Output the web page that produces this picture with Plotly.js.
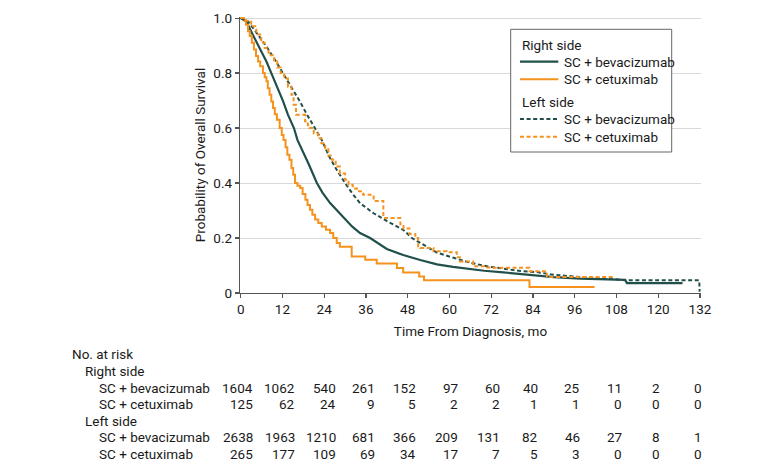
<!DOCTYPE html>
<html>
<head>
<meta charset="utf-8">
<script src="https://cdn.plot.ly/plotly-3.0.1.min.js"></script>
<style>
  html, body { margin: 0; padding: 0; background: #ffffff; }
  #chart { width: 780px; height: 472px; }
</style>
</head>
<body>
<div id="chart"></div>
<script>
// ---- Data ----
// Right side, SC + bevacizumab (smooth KM curve)
var rightBevT = [0, 1.6, 3.5, 5.5, 7.4, 8.8, 10.7, 12.2, 13.6, 15.3, 16.3, 18.3, 19.5, 21.9, 23.5, 25.7, 28, 30, 32, 34.3, 37.2, 42, 46.7, 51.6, 56.4, 61, 66, 70, 75.5, 80.4, 85.2, 90, 97.6, 104, 110.5, 111, 127];
var rightBevS = [1, 0.988, 0.939, 0.891, 0.842, 0.8, 0.745, 0.697, 0.648, 0.6, 0.557, 0.505, 0.47, 0.4, 0.365, 0.327, 0.295, 0.267, 0.242, 0.218, 0.2, 0.16, 0.138, 0.12, 0.104, 0.095, 0.087, 0.081, 0.075, 0.069, 0.064, 0.058, 0.052, 0.05, 0.048, 0.036, 0.036];

// Right side, SC + cetuximab (stepped KM curve)
var rightCetT = [0, 0.8, 1.5, 2.1, 2.6, 3.2, 3.8, 4.4, 5.0, 5.6, 6.4, 6.9, 7.4, 7.8, 8.3, 8.8, 9.3, 9.8, 10.4, 11.2, 11.8, 12.3, 12.9, 13.4, 14.0, 14.6, 15.1, 15.6, 16.3, 17.1, 17.8, 18.6, 19.2, 19.9, 20.6, 21.4, 22.3, 23.3, 24.5, 25.7, 26.6, 27.6, 28.5, 31.9, 35.8, 39.1, 44.9, 46.7, 51.3, 52.7, 83, 101.7];
var rightCetS = [1, 0.992, 0.976, 0.952, 0.935, 0.91, 0.886, 0.862, 0.842, 0.825, 0.8, 0.785, 0.77, 0.745, 0.721, 0.697, 0.673, 0.65, 0.63, 0.6, 0.575, 0.557, 0.53, 0.503, 0.485, 0.455, 0.43, 0.4, 0.39, 0.382, 0.36, 0.339, 0.32, 0.303, 0.285, 0.267, 0.255, 0.242, 0.23, 0.218, 0.2, 0.182, 0.168, 0.133, 0.121, 0.107, 0.091, 0.075, 0.06, 0.046, 0.022, 0.022];

// Left side, SC + bevacizumab (smooth KM curve)
var leftBevT = [0, 2.1, 5.0, 7.7, 10, 12.2, 14.6, 17, 19, 21.3, 23.3, 25.3, 27.5, 30, 32.2, 34.3, 36.2, 38.2, 42, 46.7, 49.2, 52, 56.4, 61.2, 66, 70.8, 75.5, 80.4, 85.2, 89, 95.7, 100, 107.7, 111, 131.8, 131.9];
var leftBevS = [1, 0.988, 0.939, 0.891, 0.845, 0.8, 0.75, 0.697, 0.65, 0.6, 0.557, 0.5, 0.45, 0.4, 0.36, 0.327, 0.31, 0.29, 0.262, 0.23, 0.2, 0.18, 0.147, 0.128, 0.11, 0.097, 0.09, 0.08, 0.076, 0.068, 0.06, 0.055, 0.05, 0.046, 0.046, 0.005];

// Left side, SC + cetuximab (stepped KM curve)
var leftCetT = [0, 1.5, 3, 4.5, 5.9, 6.9, 8, 9.6, 10.5, 11.5, 12.5, 13.6, 14.6, 15.2, 15.9, 18.5, 19.3, 19.8, 21, 22.2, 23.2, 24.3, 25.2, 26.2, 27.3, 28.5, 30, 31, 32.2, 33.4, 35.2, 38.2, 41, 45.9, 46.8, 48.5, 50.2, 51, 51.6, 55.4, 59.2, 62.1, 63, 66.8, 70.6, 72, 83, 88, 107.2];
var leftCetS = [1, 0.99, 0.97, 0.94, 0.91, 0.891, 0.865, 0.842, 0.82, 0.8, 0.78, 0.75, 0.721, 0.685, 0.648, 0.625, 0.61, 0.6, 0.58, 0.563, 0.545, 0.527, 0.5, 0.485, 0.46, 0.435, 0.412, 0.394, 0.38, 0.37, 0.357, 0.335, 0.273, 0.25, 0.235, 0.215, 0.2, 0.17, 0.164, 0.152, 0.148, 0.13, 0.115, 0.097, 0.093, 0.092, 0.079, 0.058, 0.058];

// Tick labels
var xTickVals = [0, 12, 24, 36, 48, 60, 72, 84, 96, 108, 120, 132];
var xTickText = ["0", "12", "24", "36", "48", "60", "72", "84", "96", "108", "120", "132"];
var yTickVals = [0, 0.2, 0.4, 0.6, 0.8, 1.0];
var yTickText = ["0", "0.2", "0.4", "0.6", "0.8", "1.0"];

// Legend labels
var groupTitles = ["Right side", "Left side"];
var seriesNames = ["SC + bevacizumab", "SC + cetuximab", "SC + bevacizumab", "SC + cetuximab"];

// Number at risk
var riskTimes = [0, 12, 24, 36, 48, 60, 72, 84, 96, 108, 120, 132];
var riskRightBev = [1604, 1062, 540, 261, 152, 97, 60, 40, 25, 11, 2, 0];
var riskRightCet = [125, 62, 24, 9, 5, 2, 2, 1, 1, 0, 0, 0];
var riskLeftBev = [2638, 1963, 1210, 681, 366, 209, 131, 82, 46, 27, 8, 1];
var riskLeftCet = [265, 177, 109, 69, 34, 17, 7, 5, 3, 0, 0, 0];

// ---- Styling ----
var DARK = '#21504b';
var ORANGE = '#f5921e';
var FONT = 'Roboto, "Liberation Sans", sans-serif';
var FS = 13.5;
var TXT = '#1a1a1a';
var DASH = '4px,2.6px';

var styles = [
  { color: DARK, width: 2.2, dash: 'solid', shape: 'linear' },
  { color: ORANGE, width: 2, dash: 'solid', shape: 'hv' },
  { color: DARK, width: 2, dash: DASH, shape: 'linear' },
  { color: ORANGE, width: 2, dash: DASH, shape: 'hv' }
];
var series = [[rightBevT, rightBevS], [rightCetT, rightCetS], [leftBevT, leftBevS], [leftCetT, leftCetS]];

var traces = series.map(function (s, i) {
  return { x: s[0], y: s[1], mode: 'lines', name: seriesNames[i], showlegend: false,
    line: { color: styles[i].color, width: styles[i].width, dash: styles[i].dash, shape: styles[i].shape },
    hoverinfo: 'skip' };
});

// Plot geometry (pixels)
var ML = 240, MR = 79, MT = 17, MB = 179;
var W = 780, H = 472;
var plotH = H - MT - MB;
var plotW = W - ML - MR;
var xRange = [-0.2, 132.3];
var yRange = [0, 1.004];
function pyToPaper(py) { return (H - MB - py) / plotH; }
function pxToPaper(px) { return (px - ML) / plotW; }

var annotations = [];
var shapes = [];

// ---- Manual legend (box, samples, labels) ----
shapes.push({ type: 'rect', xref: 'paper', yref: 'paper', layer: 'above',
  x0: pxToPaper(510.7), x1: pxToPaper(671.7), y0: pyToPaper(29.3), y1: pyToPaper(152),
  fillcolor: '#ffffff', line: { color: '#666666', width: 1 } });
var titleRows = [45, 101.7];
groupTitles.forEach(function (g, i) {
  annotations.push({ xref: 'paper', yref: 'paper', x: pxToPaper(519.5), y: pyToPaper(titleRows[i]),
    xanchor: 'left', yanchor: 'middle', text: g, showarrow: false,
    font: { family: FONT, size: FS, color: TXT } });
});
var itemRows = [61.7, 79.3, 119, 136.7];
seriesNames.forEach(function (n, i) {
  shapes.push({ type: 'line', xref: 'paper', yref: 'paper', layer: 'above',
    x0: pxToPaper(520), x1: pxToPaper(558.3), y0: pyToPaper(itemRows[i]), y1: pyToPaper(itemRows[i]),
    line: { color: styles[i].color, width: styles[i].width, dash: styles[i].dash } });
  annotations.push({ xref: 'paper', yref: 'paper', x: pxToPaper(561.5), y: pyToPaper(itemRows[i]),
    xanchor: 'left', yanchor: 'middle', text: n, showarrow: false,
    font: { family: FONT, size: FS, color: TXT } });
});

// ---- Risk table ----
var rowLabels = [
  { text: 'No. at risk', px: 70, py: 354 },
  { text: 'Right side', px: 83, py: 371 },
  { text: 'SC + bevacizumab', px: 97, py: 387.7 },
  { text: 'SC + cetuximab', px: 97, py: 404.3 },
  { text: 'Left side', px: 83, py: 420.5 },
  { text: 'SC + bevacizumab', px: 97, py: 437.3 },
  { text: 'SC + cetuximab', px: 97, py: 454 }
];
rowLabels.forEach(function (r) {
  annotations.push({ xref: 'paper', yref: 'paper', x: pxToPaper(r.px), y: pyToPaper(r.py),
    xanchor: 'left', yanchor: 'middle', text: r.text, showarrow: false,
    font: { family: FONT, size: FS, color: TXT } });
});
var riskRows = [
  { vals: riskRightBev, py: 387.7 },
  { vals: riskRightCet, py: 404.3 },
  { vals: riskLeftBev, py: 437.3 },
  { vals: riskLeftCet, py: 454 }
];
var DIGIT = 7.1;
riskTimes.forEach(function (t, i) {
  var maxLen = 0;
  riskRows.forEach(function (r) { maxLen = Math.max(maxLen, String(r.vals[i]).length); });
  riskRows.forEach(function (r) {
    annotations.push({ xref: 'x', yref: 'paper', x: t, y: pyToPaper(r.py),
      xanchor: 'right', yanchor: 'middle', xshift: maxLen * DIGIT / 2,
      text: String(r.vals[i]), showarrow: false,
      font: { family: FONT, size: FS, color: TXT } });
  });
});

var layout = {
  width: W, height: H,
  margin: { l: ML, r: MR, t: MT, b: MB, pad: 0 },
  paper_bgcolor: '#ffffff', plot_bgcolor: '#ffffff',
  font: { family: FONT, size: FS, color: TXT },
  showlegend: false,
  xaxis: {
    range: xRange, tickvals: xTickVals, ticktext: xTickText,
    showgrid: false, zeroline: false, showline: true, linecolor: '#555555', linewidth: 1.2,
    ticks: 'outside', ticklen: 4, tickcolor: '#555555', tickwidth: 1.2,
    tickfont: { family: FONT, size: FS, color: TXT },
    title: { text: 'Time From Diagnosis, mo', standoff: 10, font: { family: FONT, size: FS, color: TXT } },
    fixedrange: true
  },
  yaxis: {
    range: yRange, tickvals: yTickVals, ticktext: yTickText,
    showgrid: true, gridcolor: '#d9d9d9', gridwidth: 1,
    zeroline: false, showline: true, linecolor: '#555555', linewidth: 1.2,
    ticks: 'outside', ticklen: 4, tickcolor: '#555555', tickwidth: 1.2,
    tickfont: { family: FONT, size: FS, color: TXT },
    title: { text: 'Probability of Overall Survival', standoff: 4, font: { family: FONT, size: FS, color: TXT } },
    fixedrange: true
  },
  shapes: shapes,
  annotations: annotations
};

Plotly.newPlot('chart', traces, layout, { displayModeBar: false, staticPlot: true });
</script>
</body>
</html>
